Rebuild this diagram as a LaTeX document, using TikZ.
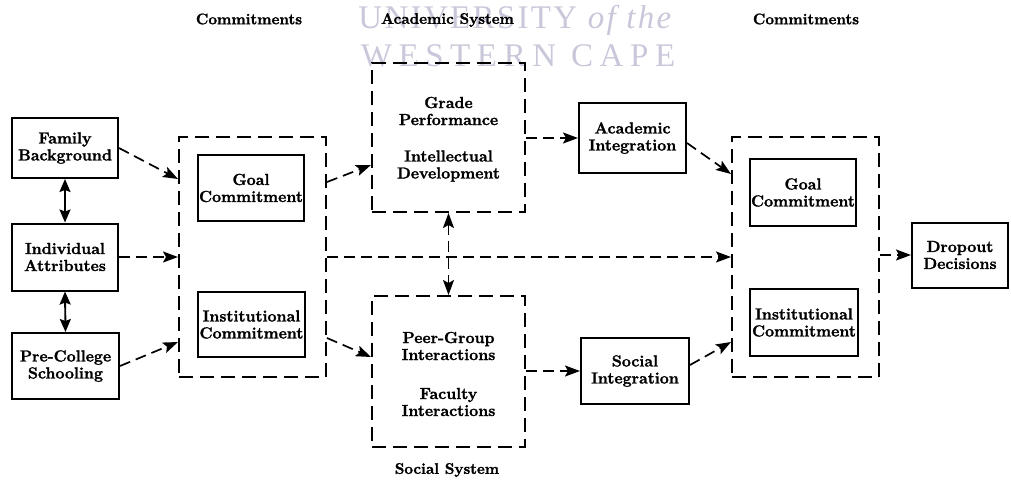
\documentclass[tikz,border=0pt]{standalone}
\usepackage{fontspec}
\usetikzlibrary{arrows.meta,calc}
\setmainfont{Latin Modern Roman}[BoldFeatures={FakeBold=1.6}]
\newfontfamily\wmfontA{Liberation Serif}[LetterSpace=7]
\newfontfamily\wmfontB{Liberation Serif}[LetterSpace=20]
\definecolor{wm}{RGB}{200,200,218}
\newcommand{\boxfont}{\fontsize{16}{17}\selectfont\bfseries}
\newcommand{\hdrfont}{\fontsize{15.3}{17}\selectfont\bfseries}
\begin{document}
\begin{tikzpicture}[x=1pt,y=-1pt,
  tip/.tip={Stealth[length=15pt,width=11pt,inset=3pt]},
  sbox/.style={draw, line width=2pt, rectangle, align=center, inner sep=0pt, font=\boxfont},
  dbox/.style={draw, line width=2pt, rectangle, dash pattern=on 14pt off 7pt, inner sep=0pt},
  btext/.style={align=center, inner sep=0pt, font=\boxfont},
  hdr/.style={inner sep=0pt, font=\hdrfont},
  arr/.style={line width=1.7pt, dash pattern=on 11pt off 6pt, -tip},
  darr/.style={line width=1.7pt, dash pattern=on 11pt off 6pt, tip-tip},
  sarr/.style={line width=1.9pt, {Stealth[length=13pt,width=11pt,inset=2pt]}-{Stealth[length=13pt,width=11pt,inset=2pt]}}
]
\useasboundingbox (0,0) rectangle (1011,480);
% watermark
\node[text=wm, inner sep=0pt, font=\fontsize{33}{36}\wmfontA] (wm1) at (516,20) {UNIVERSITY \textit{of the}};
\node[text=wm, inner sep=0pt, font=\fontsize{33}{36}\wmfontB] (wm2) at (518,56) {WESTERN CAPE};
% headers
\node[hdr] (h1) at (249,19) {Commitments};
\node[hdr] (h2) at (447.5,20) {Academic System};
\node[hdr] (h3) at (806,19) {Commitments};
\node[hdr] (h4) at (447,470) {Social System};
% left column
\node[sbox, minimum width=106pt, minimum height=60pt] (fam) at (65,148) {Family\\Background};
\node[sbox, minimum width=106pt, minimum height=67pt] (ind) at (65,257) {Individual\\Attributes};
\node[sbox, minimum width=107pt, minimum height=66pt] (pre) at (65.5,366) {Pre-College\\Schooling};
% commitments 1
\node[dbox, minimum width=147pt, minimum height=240pt] (out1) at (252.5,257) {};
\node[sbox, minimum width=106pt, minimum height=66pt] (goal1) at (251,188) {Goal\\Commitment};
\node[sbox, minimum width=107pt, minimum height=65pt] (inst1) at (251.5,324.5) {Institutional\\Commitment};
% systems
\node[dbox, minimum width=153pt, minimum height=149pt] (acad) at (448.5,137.5) {};
\node[btext] (gp) at (448.5,111) {Grade\\Performance};
\node[btext] (idv) at (448.5,166) {Intellectual\\Development};
\node[dbox, minimum width=153pt, minimum height=151pt] (soc) at (448.5,371.5) {};
\node[btext] (pg) at (448.5,346) {Peer-Group\\Interactions};
\node[btext] (fi) at (448.5,402) {Faculty\\Interactions};
% integration
\node[sbox, minimum width=107pt, minimum height=70pt] (acadint) at (632.5,138) {Academic\\Integration};
\node[sbox, minimum width=108pt, minimum height=66pt] (socint) at (635,371) {Social\\Integration};
% commitments 2
\node[dbox, minimum width=147pt, minimum height=240pt] (out2) at (805.5,257) {};
\node[sbox, minimum width=106pt, minimum height=67pt] (goal2) at (803,192.5) {Goal\\Commitment};
\node[sbox, minimum width=108pt, minimum height=67pt] (inst2) at (804,322.5) {Institutional\\Commitment};
% outcome
\node[sbox, minimum width=96pt, minimum height=65pt] (drop) at (960,255) {Dropout\\Decisions};
% connectors
\draw[sarr] (fam.south) -- (ind.north);
\draw[sarr] (ind.south) -- (pre.north);
\draw[arr] (fam.east) -- ([yshift=78pt]out1.west);
\draw[arr] (ind.east) -- (out1.west);
\draw[arr] (pre.east) -- ([yshift=-85pt]out1.west);
\draw[arr] ([yshift=75pt]out1.east) -- ([yshift=-27.5pt]acad.west);
\draw[arr] ([yshift=-81pt]out1.east) -- ([yshift=14.5pt]soc.west);
\draw[arr] (out1.east) -- (out2.west);
\draw[darr] (acad.south) -- (soc.north);
\draw[arr] (acadint.west -| acad.east) -- (acadint.west);
\draw[arr] ([yshift=-5pt]acadint.east) -- ([yshift=83pt]out2.west);
\draw[arr] (socint.west -| soc.east) -- (socint.west);
\draw[arr] ([yshift=6pt]socint.east) -- ([yshift=-85pt]out2.west);
\draw[arr] (drop.west -| out2.east) -- (drop.west);
\end{tikzpicture}
\end{document}
